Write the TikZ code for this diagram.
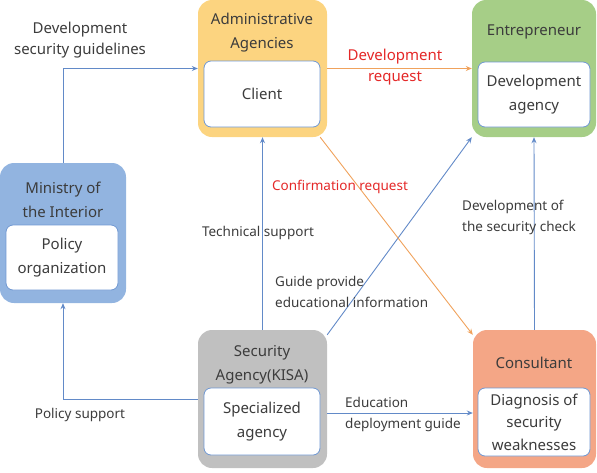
\documentclass[tikz,border=0pt]{standalone}
\usepackage{fontspec}
\setmainfont{Noto Sans}
\usetikzlibrary{arrows.meta}
\definecolor{admfill}{RGB}{252,212,128}
\definecolor{entfill}{RGB}{166,206,135}
\definecolor{minfill}{RGB}{146,180,224}
\definecolor{kisafill}{RGB}{192,192,192}
\definecolor{consfill}{RGB}{244,166,134}
\definecolor{innline}{RGB}{112,152,210}
\definecolor{lkblue}{RGB}{98,138,200}
\definecolor{lkorange}{RGB}{240,162,92}
\definecolor{redtxt}{RGB}{228,40,40}
\definecolor{txtgray}{RGB}{60,60,60}
\newcommand{\boxfont}{\fontsize{15}{24}\selectfont}
\newcommand{\linkfont}{\fontsize{13.5}{21}\selectfont}
\newcommand{\toplinkfont}{\fontsize{15}{21}\selectfont}

\begin{document}
\begin{tikzpicture}[x=1pt, y=-1pt, font=\linkfont, text=txtgray,
  >={Stealth[length=6pt, width=5pt]},
  grp/.style={rounded corners=14pt, inner sep=0pt},
  inn/.style={draw=innline, line width=0.8pt, fill=white, rounded corners=7pt,
              align=center, inner sep=0pt, font=\boxfont},
  ttl/.style={align=center, inner sep=0pt, font=\boxfont},
  lk/.style={->, draw=lkblue, line width=0.9pt},
  lko/.style={->, draw=lkorange, line width=0.9pt},
  lab/.style={align=left, inner sep=0pt}]
\useasboundingbox (0,0) rectangle (597,472);
% groups
\node[grp, fill=admfill, minimum width=129pt, minimum height=137pt] (adm) at (262.5,68.5) {};
\node[grp, fill=entfill, minimum width=124pt, minimum height=137pt] (ent) at (534,68.5) {};
\node[grp, fill=minfill, minimum width=126pt, minimum height=140pt] (mini) at (63,233) {};
\node[grp, fill=kisafill, minimum width=129pt, minimum height=138pt] (kisa) at (262.5,399) {};
\node[grp, fill=consfill, minimum width=123pt, minimum height=138pt] (cons) at (534.5,399) {};
% titles
\node[ttl] (admttl) at (262,33) {Administrative\\Agencies};
\node[ttl] (entttl) at (534,32) {Entrepreneur};
\node[ttl] (minittl) at (63,200) {Ministry of\\the Interior};
\node[ttl] (kisattl) at (262,365) {Security\\Agency(KISA)};
\node[ttl] (consttl) at (534,363) {Consultant};
% inner boxes
\node[inn, minimum width=116pt, minimum height=66pt] (client) at (262,94) {Client};
\node[inn, minimum width=112pt, minimum height=65pt] (devag) at (534,94.5) {Development\\agency};
\node[inn, minimum width=112pt, minimum height=65pt] (policy) at (62,257.5) {Policy\\organization};
\node[inn, minimum width=116pt, minimum height=67pt] (spec) at (262,421.5) {Specialized\\agency};
\node[inn, minimum width=112pt, minimum height=68pt, font=\fontsize{15}{22.5}\selectfont] (diag) at (534,422) {Diagnosis of\\security\\weaknesses};
% connectors
\draw[lk] (mini.north) |- (adm.west);
\draw[lk] (kisa.west) -| (mini.south);
\draw[lk] (kisa.north) -- (adm.south);
\draw[lk] ([yshift=-14pt]kisa.east) -- ([yshift=-14pt]cons.west);
\draw[lk] (cons.north) -- (ent.south);
\draw[lk] ([yshift=-5pt]kisa.north east) -- (ent.south west);
\draw[lko] (adm.east) -- (ent.west);
\draw[lko] ([xshift=-7pt]adm.south east) -- ([yshift=-5pt]cons.north west);
% labels
\node[lab, align=center, font=\toplinkfont] (lguide) at (80,40) {Development\\security guidelines};
\node[lab, align=center, font=\toplinkfont, text=redtxt] (lreq) at (395,67) {Development\\request};
\node[lab, text=redtxt] (lconf) at (340,187) {Confirmation request};
\node[lab] (ltech) at (258,233) {Technical support};
\node[lab, anchor=west] (lgd) at (275,292) {Guide provide\\educational information};
\node[lab, anchor=west] (lchk) at (462,217) {Development of\\the security check};
\node[lab] (lpol) at (80,415) {Policy support};
\node[lab, anchor=west] (ledu) at (345,414) {Education\\deployment guide};
\end{tikzpicture}
\end{document}
